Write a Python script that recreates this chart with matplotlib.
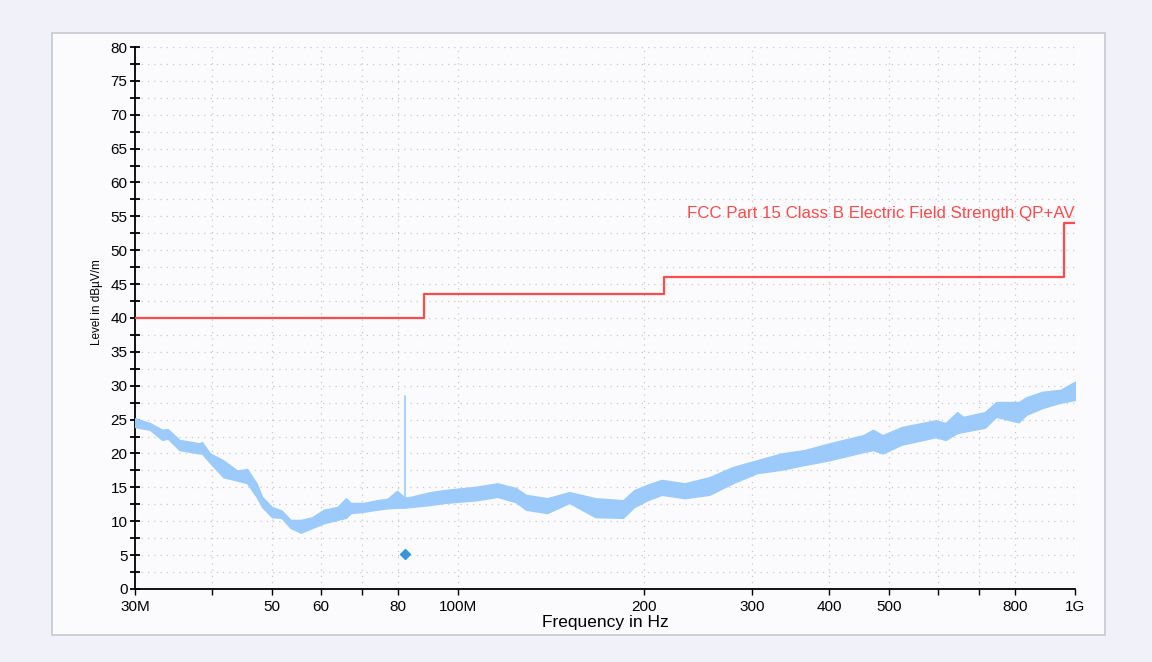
import matplotlib
matplotlib.use("Agg")
import matplotlib.pyplot as plt
import numpy as np
from matplotlib.patches import Rectangle
from matplotlib.ticker import FixedLocator, NullFormatter, MultipleLocator

# ---------- data (MHz / dBuV/m), upper and lower edge of the measured trace ----------
freq_mhz = [30.0, 31.7, 33.2, 33.9, 35.4, 38.2, 38.5, 39.7, 41.7, 43.9, 45.6, 47.2, 48.2,
            50.0, 51.8, 53.6, 55.7, 58.1, 60.7, 63.8, 65.9, 67.1, 70.4, 73.9, 76.9,
            79.7, 82.0, 83.9, 90.3, 95.2, 107.3, 115.9, 124.3, 128.9, 139.6, 151.6,
            167.1, 185.2, 193.1, 203.0, 213.9, 233.1, 255.6, 278.8, 305.3, 334.3,
            364.2, 400.0, 453.5, 470.8, 487.8, 523.8, 594.2, 617.3, 643.9, 659.1,
            714.2, 745.1, 810.5, 833.5, 884.5, 947.5, 1000.0]
level_hi = [25.2, 24.5, 23.5, 23.6, 22.0, 21.5, 21.7, 20.0, 19.0, 17.5, 17.7, 15.6, 13.6,
            12.1, 11.6, 10.2, 10.2, 10.6, 11.7, 12.1, 13.4, 12.7, 12.7, 13.1, 13.3,
            14.5, 13.5, 13.6, 14.3, 14.6, 15.1, 15.6, 14.9, 13.9, 13.4, 14.3,
            13.4, 13.1, 14.6, 15.4, 16.1, 15.6, 16.5, 18.0, 19.0, 20.0,
            20.5, 21.5, 22.7, 23.5, 22.7, 23.9, 24.9, 24.5, 26.1, 25.4,
            26.1, 27.6, 27.6, 28.3, 29.1, 29.4, 30.6]
level_lo = [23.9, 23.5, 22.0, 22.2, 20.5, 20.0, 20.0, 18.6, 16.5, 16.0, 15.6, 13.6, 12.1,
            10.6, 10.5, 9.0, 8.3, 9.0, 9.7, 10.2, 10.5, 11.2, 11.4, 11.7, 11.9,
            12.0, 12.0, 12.1, 12.4, 12.7, 13.1, 13.6, 12.8, 11.7, 11.2, 12.7,
            10.6, 10.5, 12.1, 13.1, 13.9, 13.4, 13.9, 15.6, 17.1, 17.6,
            18.3, 19.0, 20.2, 20.5, 20.0, 21.3, 22.4, 22.0, 23.0, 23.2,
            23.8, 25.4, 24.6, 25.7, 26.7, 27.5, 27.9]

spike_freq = 82.0
spike_level = 28.5

marker_freq = [82.0]
marker_level = [5.2]

limit_freq = [30, 88, 88, 216, 216, 960, 960, 1000]
limit_level = [40, 40, 43.5, 43.5, 46, 46, 54, 54]
limit_name = "FCC Part 15 Class B Electric Field Strength QP+AV"

x_ticks = [30, 40, 50, 60, 70, 80, 100, 200, 300, 400, 500, 600, 700, 800, 1000]
x_labels = ["30M", "", "50", "60", "", "80", "100M", "200", "300", "400", "500", "", "", "800", "1G"]

# ---------- style ----------
plt.rcParams['font.family'] = ['Liberation Sans', 'DejaVu Sans']
plt.rcParams['font.size'] = 11

fig = plt.figure(figsize=(11.52, 6.62), dpi=100, facecolor='#F1F1FA')
fig.patches.append(Rectangle((0.0451, 0.0408), 0.914, 0.9094, transform=fig.transFigure,
                             facecolor='#FBFBFE', edgecolor='#C8C8D0', linewidth=1.2, zorder=-5))

ax = fig.add_axes([0.1172, 0.1103, 0.816, 0.8187])
ax.set_zorder(2)
ax.set_facecolor('none')

f = np.array(freq_mhz) * 1e6
ax.fill_between(f, level_lo, level_hi, color='#9CCBFB', linewidth=1.0, edgecolor='#9CCBFB', zorder=3)
ax.plot([spike_freq * 1e6] * 2, [12.5, spike_level], color='#9CCBFB', linewidth=1.2, zorder=3)

ax.plot(np.array(limit_freq) * 1e6, limit_level, color='#FF4B4B', linewidth=1.6, zorder=4)
ax.text(1e9, 54.3, limit_name, color='#FF4B4B', ha='right', va='bottom', fontsize=12.2, zorder=5)

ax.plot(np.array(marker_freq) * 1e6, marker_level, linestyle='none', marker='D', markersize=5.5,
        color='#3A95D8', zorder=5)

ax.set_xscale('log')
ax.set_xlim(30e6, 1e9)
ax.set_ylim(0, 80)

ax.xaxis.set_major_locator(FixedLocator([t * 1e6 for t in x_ticks]))
ax.set_xticklabels(x_labels)
ax.xaxis.set_minor_formatter(NullFormatter())
ax.xaxis.set_minor_locator(FixedLocator([]))
ax.yaxis.set_major_locator(MultipleLocator(5))
ax.yaxis.set_minor_locator(MultipleLocator(2.5))

ax.tick_params(axis='x', which='major', direction='out', length=4, width=1, pad=4)
ax.tick_params(axis='y', which='major', direction='inout', length=7, width=1.3, pad=2)
ax.tick_params(axis='y', which='minor', direction='inout', length=7, width=1.3)

ax.grid(True, which='major', axis='x', color='#C8C8C8', linestyle=(0, (1, 4)), linewidth=0.9)
ax.grid(True, which='both', axis='y', color='#C8C8C8', linestyle=(0, (1, 4)), linewidth=0.9)

for s in ['top', 'right']:
    ax.spines[s].set_visible(False)
for s in ['left', 'bottom']:
    ax.spines[s].set_linewidth(1.3)

ax.set_xlabel("Frequency in Hz", fontsize=12.5, labelpad=1)
ax.set_ylabel("Level in dBµV/m", fontsize=8.5)
ax.yaxis.set_label_coords(-0.034, 0.53)

fig.savefig("out.png", dpi=100, facecolor=fig.get_facecolor())
